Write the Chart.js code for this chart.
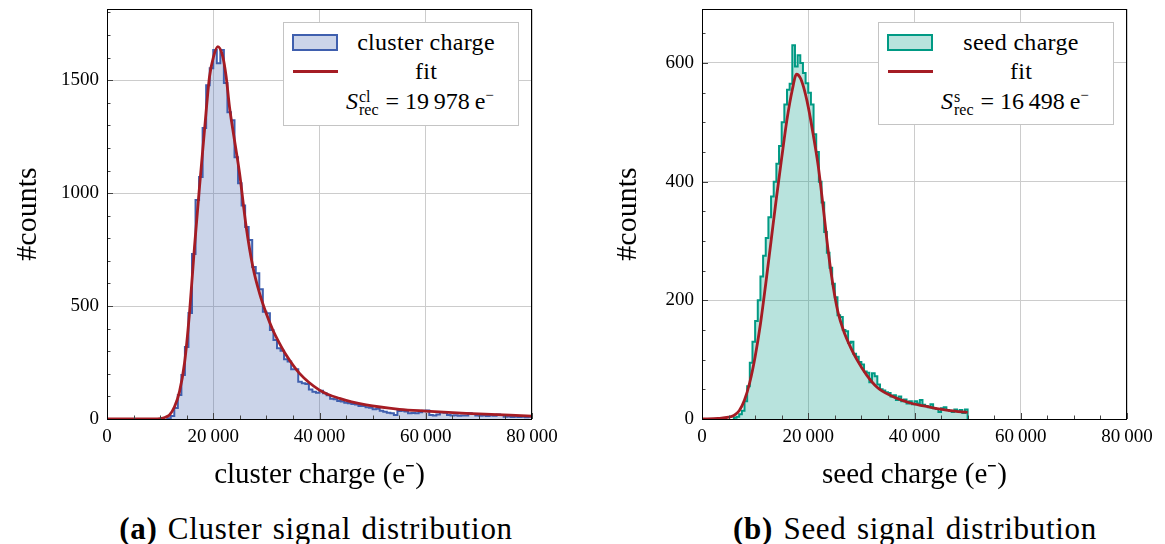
<!DOCTYPE html>
<html>
<head>
<meta charset="utf-8">
<script src="https://cdn.jsdelivr.net/npm/chart.js@4.4.1/dist/chart.umd.min.js"></script>
<style>
  body { margin: 0; background: #fff; font-family: "Liberation Serif", serif; color: #000; }
  #page { position: relative; width: 1165px; height: 544px; overflow: hidden; }
  canvas { position: absolute; top: 0; }
  .legend { position: absolute; border: 1px solid #c4c4c4; background: #fff; box-sizing: border-box; font-size: 24px; }
  .legend > * { position: absolute; white-space: nowrap; }
  .swatch { box-sizing: border-box; border: 2px solid; width: 46px; height: 17px; }
  .fitline { width: 45px; height: 3px; background: #a51c24; }
  .centered { transform: translate(-50%, -50%); line-height: 1; letter-spacing: 0.3px; }
  .math { transform: translateY(-50%); line-height: 1; }
  .scripts { display: inline-block; vertical-align: -6px; font-size: 16px; line-height: 13px; margin-left: 1px; margin-right: 7px; }
  .scripts span { display: block; }
  .caption { position: absolute; top: 513px; font-size: 31px; line-height: 1; letter-spacing: 0.7px; word-spacing: 2px; white-space: nowrap; transform: translateX(-50%); }
</style>
</head>
<body>
<div id="page">
  <canvas id="clusterChart" width="570" height="494" style="left:0"></canvas>
  <canvas id="seedChart" width="570" height="494" style="left:595px"></canvas>

  <div class="legend" style="left:283px; top:22px; width:236px; height:104px">
    <div class="swatch" style="left:8px; top:11px; border-color:#3f5fae; background:rgba(63,95,174,0.27)"></div>
    <div class="centered" style="left:142px; top:19px">cluster charge</div>
    <div class="fitline" style="left:9px; top:47px"></div>
    <div class="centered" style="left:142px; top:48px">fit</div>
    <div class="math" style="left:62px; top:79px"><i>S</i><span class="scripts"><span>cl</span><span>rec</span></span>= 19&#8201;978&#8201;e<sup style="font-size:15px">&minus;</sup></div>
  </div>

  <div class="legend" style="left:878px; top:22px; width:236px; height:103px">
    <div class="swatch" style="left:8px; top:11px; border-color:#009a84; background:rgba(0,154,132,0.28)"></div>
    <div class="centered" style="left:142px; top:19px">seed charge</div>
    <div class="fitline" style="left:9px; top:47px"></div>
    <div class="centered" style="left:142px; top:48px">fit</div>
    <div class="math" style="left:62px; top:79px"><i>S</i><span class="scripts"><span>s</span><span>rec</span></span>= 16&#8201;498&#8201;e<sup style="font-size:15px">&minus;</sup></div>
  </div>

  <div class="caption" style="left:316px"><b>(a)</b> Cluster signal distribution</div>
  <div class="caption" style="left:915px"><b>(b)</b> Seed signal distribution</div>
</div>

<script>
// cluster charge histogram: bins of 666.67 e, first listed bin starts at 11 333 e
const clusterBinWidth = 2000 / 3;
const clusterFirstEdge = 17 * clusterBinWidth;
const clusterCounts = [
  3, 13, 49, 106, 195, 319, 469, 730, 969, 1071,
  1288, 1478, 1553, 1633, 1575, 1633, 1487, 1358, 1323, 1159,
  1044, 945, 850, 792, 673, 645, 574, 475, 468, 394,
  350, 313, 302, 264, 254, 220, 220, 165, 158, 155,
  131, 121, 116, 125, 114, 105, 90, 87, 80, 77,
  72, 70, 66, 64, 58, 58, 52, 50, 43, 45,
  37, 32, 28, 25, 18, 35, 37, 33, 25, 27,
  25, 30, 37, 38, 18, 16, 20, 30, 28, 18,
  15, 17, 14, 15, 16, 25, 22, 15, 14, 15,
  13, 15, 14, 20, 18, 10, 11, 9, 10, 9,
  10, 8, 10
];
const clusterFitX = [0, 9000, 10000, 11000, 11765, 12706, 13647, 14588, 15529, 16470,
  17412, 18353, 19294, 20047, 20863, 21804, 22431, 23059, 24000, 24941,
  26196, 27451, 28706, 29961, 31216, 32471, 33726, 36235, 40000, 43765,
  48784, 55059, 60000, 67608, 80000];
const clusterFitY = [0, 0, 2, 8, 18, 54, 121, 247, 469, 762,
  1028, 1279, 1515, 1603, 1648, 1603, 1515, 1382, 1234, 1090,
  851, 674, 557, 468, 394, 335, 283, 202, 128, 91,
  62, 43, 35, 25, 13];
const clusterYTicks = [0, 500, 1000, 1500];

// seed charge histogram: bins of 500 e, first listed bin starts at 6000 e
const seedBinWidth = 500;
const seedFirstEdge = 6000;
const seedCounts = [
  2, 4, 8, 14, 30, 55, 95, 130, 165, 200,
  240, 275, 305, 340, 375, 400, 430, 460, 500, 530,
  555, 565, 630, 594, 613, 600, 583, 566, 550, 530,
  480, 450, 400, 365, 315, 280, 255, 228, 205, 175,
  172, 150, 148, 128, 130, 110, 105, 96, 92, 80,
  78, 62, 77, 72, 58, 50, 48, 45, 44, 38,
  40, 32, 38, 30, 33, 26, 30, 25, 30, 26,
  32, 24, 22, 20, 25, 18, 17, 12, 18, 20,
  15, 14, 12, 16, 13, 15, 10, 16
];
const seedFitX = [0, 3000, 5000, 6000, 7000, 8000, 9000, 10000, 11000, 12000,
  13000, 14000, 15000, 16000, 17000, 17800, 18500, 19100, 20000, 20900,
  21900, 22800, 23800, 24700, 25600, 26600, 27900, 29100, 31000, 32900,
  35400, 39200, 42900, 46700, 50000];
const seedFitY = [0, 1, 3, 6, 14, 32, 62, 105, 160, 228,
  300, 372, 440, 505, 555, 581, 575, 560, 526, 481,
  425, 358, 280, 223, 180, 150, 122, 101, 74, 54,
  40, 27, 20, 14, 11];
const seedYTicks = [0, 200, 400, 600];

const xTicks = [0, 20000, 40000, 60000, 80000];

Chart.defaults.font.family = '"Liberation Serif", serif';
Chart.defaults.color = '#000';

function histPoints(firstEdge, width, counts) {
  const pts = [{x: firstEdge, y: 0}];
  counts.forEach((c, i) => pts.push({x: firstEdge + i * width, y: c}));
  const end = firstEdge + counts.length * width;
  pts.push({x: end, y: counts[counts.length - 1]});
  pts.push({x: end, y: 0});
  return pts;
}

function fitPoints(xs, ys) {
  return xs.map((x, i) => ({x: x, y: ys[i]}));
}

function fmt(v) {
  return String(v).replace(/\B(?=(\d{3})+(?!\d))/g, '\u2009');
}

// box frame + small inward ticks like pgfplots
const frameTicks = {
  id: 'frameTicks',
  afterDatasetsDraw(chart, args, opts) {
    const {ctx, chartArea: a, scales: {x, y}} = chart;
    ctx.save();
    ctx.strokeStyle = '#444';
    ctx.lineWidth = 1;
    ctx.beginPath();
    for (let v = 0; v <= x.max + 1; v += opts.xMinor) {
      const px = Math.round(x.getPixelForValue(v)) + 0.5;
      const len = v % opts.xMajor === 0 ? 6 : 3.5;
      ctx.moveTo(px, a.bottom);
      ctx.lineTo(px, a.bottom - len);
    }
    for (let v = 0; v <= y.max; v += opts.yMinor) {
      const py = Math.round(y.getPixelForValue(v)) + 0.5;
      const len = v % opts.yMajor === 0 ? 6 : 3.5;
      ctx.moveTo(a.left, py);
      ctx.lineTo(a.left + len, py);
    }
    ctx.stroke();
    ctx.strokeStyle = '#000';
    ctx.strokeRect(a.left + 0.5, a.top + 0.5, a.right - a.left - 1, a.bottom - a.top);
    ctx.restore();
  }
};

function makeChart(id, cfg) {
  return new Chart(document.getElementById(id), {
    type: 'line',
    data: {
      datasets: [{
        label: 'fit',
        data: fitPoints(cfg.fitX, cfg.fitY),
        borderColor: '#a51c24',
        borderWidth: 2.8,
        pointRadius: 0,
        cubicInterpolationMode: 'monotone',
        fill: false,
        order: 0
      }, {
        label: cfg.label,
        data: histPoints(cfg.firstEdge, cfg.binWidth, cfg.counts),
        borderColor: cfg.line,
        backgroundColor: cfg.fill,
        borderWidth: 2,
        pointRadius: 0,
        stepped: true,
        fill: 'origin',
        order: 1
      }]
    },
    options: {
      responsive: false,
      animation: false,
      events: [],
      layout: { padding: { left: 0, top: 9, right: cfg.padRight, bottom: 0 } },
      plugins: {
        legend: { display: false },
        tooltip: { enabled: false },
        frameTicks: { xMinor: 5000, xMajor: 20000, yMinor: cfg.yMinor, yMajor: cfg.yStep }
      },
      scales: {
        x: {
          type: 'linear',
          min: 0,
          max: 80000,
          afterBuildTicks: s => { s.ticks = xTicks.map(v => ({value: v})); },
          afterFit: s => { s.height = 75; s.paddingLeft = 0; s.paddingRight = 0; },
          grid: { color: '#cccccc', drawTicks: false },
          border: { display: false },
          ticks: { font: { size: 19 }, padding: 7, maxRotation: 0, autoSkip: false, callback: v => fmt(v) },
          title: { display: true, text: cfg.xTitle, font: { size: 29 }, padding: { top: 0, bottom: 1 } }
        },
        y: {
          min: 0,
          max: cfg.yMax,
          afterBuildTicks: s => { s.ticks = cfg.yTicks.map(v => ({value: v})); },
          afterFit: s => { s.width = 107; s.paddingTop = 0; s.paddingBottom = 0; },
          grid: { color: '#cccccc', drawTicks: false },
          border: { display: false },
          ticks: { font: { size: 19 }, padding: 8, autoSkip: false, callback: v => String(v) },
          title: { display: true, text: '#counts', font: { size: 30 }, padding: { top: cfg.yTitlePad, bottom: 0 } }
        }
      }
    },
    plugins: [frameTicks]
  });
}

makeChart('clusterChart', {
  label: 'cluster charge', counts: clusterCounts, firstEdge: clusterFirstEdge, binWidth: clusterBinWidth,
  fitX: clusterFitX, fitY: clusterFitY, yTicks: clusterYTicks,
  line: '#3f5fae', fill: 'rgba(63,95,174,0.27)',
  yMax: 1815, yStep: 500, yMinor: 100, padRight: 38, yTitlePad: 10,
  xTitle: 'cluster charge (e\u207B)'
});

makeChart('seedChart', {
  label: 'seed charge', counts: seedCounts, firstEdge: seedFirstEdge, binWidth: seedBinWidth,
  fitX: seedFitX, fitY: seedFitY, yTicks: seedYTicks,
  line: '#009a84', fill: 'rgba(0,154,132,0.28)',
  yMax: 691, yStep: 200, yMinor: 50, padRight: 38, yTitlePad: 15,
  xTitle: 'seed charge (e\u207B)'
});
</script>
</body>
</html>
